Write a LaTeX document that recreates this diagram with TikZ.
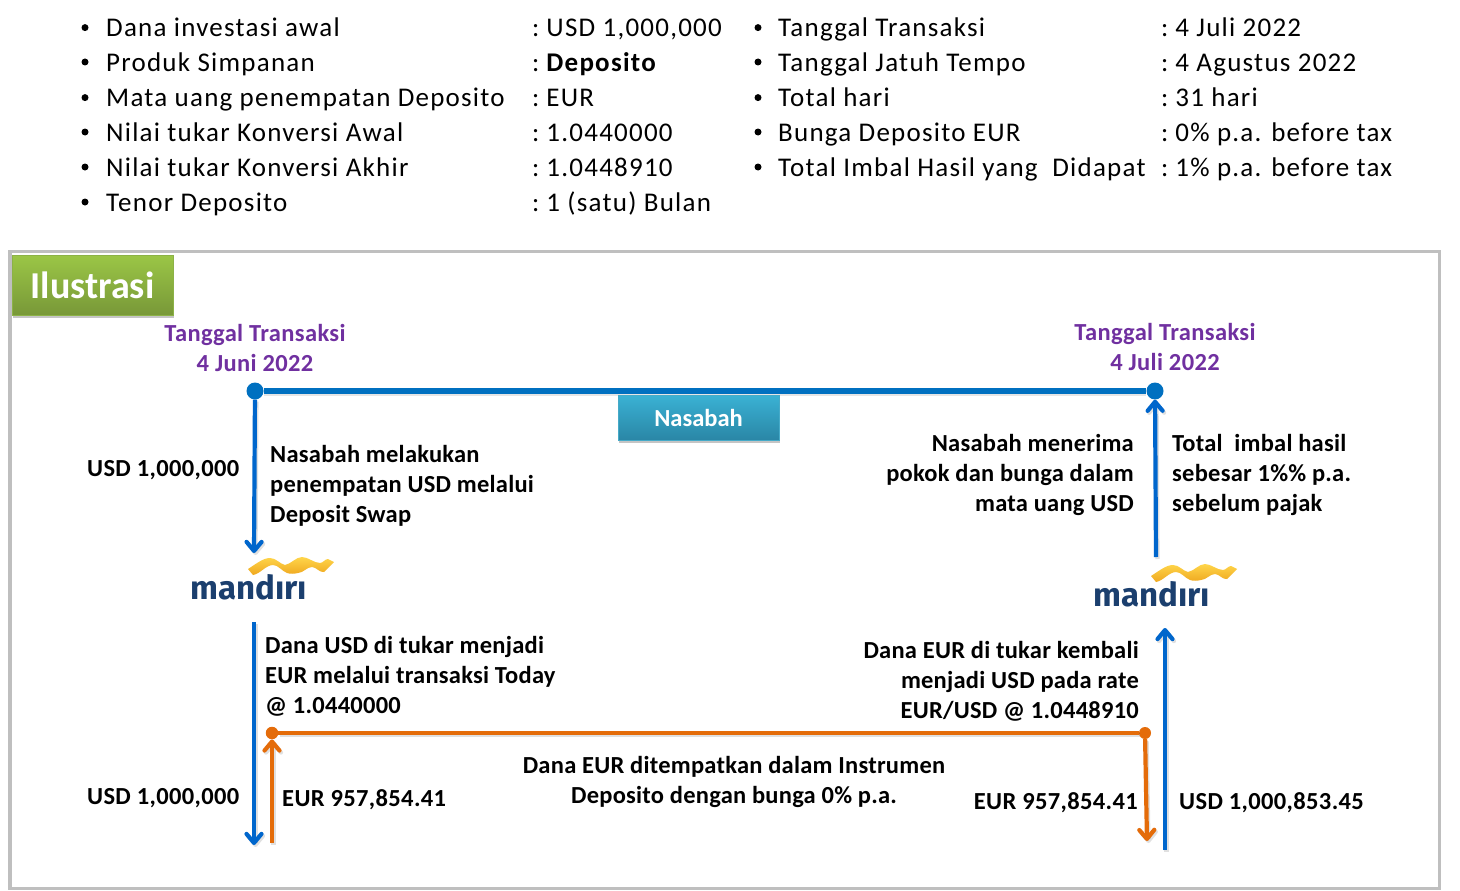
\documentclass[tikz,border=0pt]{standalone}
\usepackage{fontspec}
\setmainfont{Carlito}
\newfontfamily\listfont[LetterSpace=4.6]{Carlito}
\newfontfamily\boldfont[LetterSpace=1.5]{Carlito}
\newfontfamily\parafont[LetterSpace=1.0]{Carlito}
\newfontfamily\logofont{Fira Sans}
\usetikzlibrary{arrows.meta,shadows}
\definecolor{bluel}{HTML}{0070C0}
\definecolor{blueb}{HTML}{0066CC}
\definecolor{orangel}{HTML}{E46C0A}
\definecolor{purp}{HTML}{7030A0}
\definecolor{logoblue}{HTML}{1B3F6E}
\definecolor{greent}{RGB}{155,198,70}
\definecolor{greenb}{RGB}{120,152,56}
\definecolor{greend}{RGB}{140,178,70}
\definecolor{cyant}{RGB}{58,178,212}
\definecolor{cyanb}{RGB}{42,134,166}
\definecolor{cyand}{RGB}{70,170,200}
\definecolor{goldt}{HTML}{FFD54A}
\definecolor{goldb}{HTML}{EFA820}
\newcommand{\cc}{:\hskip 7pt}
\tikzset{
  x=1pt,y=-1pt,
  li/.style={anchor=base west,inner sep=0pt,font=\fontsize{27}{30}\selectfont\listfont,text=black},
  bul/.style={circle,fill=black,inner sep=0pt,minimum size=7pt},
  lab/.style={inner sep=0pt,font=\fontsize{24.5}{30}\selectfont\bfseries\boldfont,text=black},
  para/.style={inner sep=0pt,font=\fontsize{24.5}{30}\selectfont\bfseries\parafont,text=black},
  dateh/.style={inner sep=0pt,align=center,font=\fontsize{24.5}{30}\selectfont\bfseries\boldfont,text=purp},
  bar/.style={draw=#1,fill=none,line width=4.2pt,line cap=butt,
     preaction={draw=black,draw opacity=.12,line width=4.2pt,transform canvas={shift={(1.5pt,-2pt)}}}},
  barh/.style={draw=#1,fill=none,line width=5.5pt,line cap=butt,
     preaction={draw=black,draw opacity=.10,line width=5.5pt,transform canvas={shift={(0pt,-2pt)}}}},
  tip/.style={-{Straight Barb[length=9pt,width=15pt,line width=4.2pt,round]}},
  boxb/.style={inner sep=0pt,anchor=north west,line width=1pt,text=white,drop shadow={shadow xshift=1pt,shadow yshift=-3pt,opacity=.45}},
}
\newcommand{\logoat}[3]{%
  \node[inner sep=0pt,anchor=base west,text=logoblue,font=\fontsize{33}{33}\selectfont\logofont\bfseries] (#3) at (#1,#2) {mandırı};
  \shade[top color=goldt,bottom color=goldb,shift={(#1,#2)}]
    (58,-30) .. controls (66,-35) and (73,-41) .. (80,-41) .. controls (86,-41) and (90,-35) .. (95,-34)
    .. controls (101,-35) and (106,-42) .. (112,-42) .. controls (118,-42) and (124,-36) .. (130,-36)
    .. controls (133,-36) and (135,-40) .. (138,-40) -- (144,-37) -- (134,-27)
    .. controls (130,-26) and (126,-32) .. (122,-32) .. controls (117,-32) and (113,-26) .. (108,-26)
    .. controls (104,-25) and (100,-25) .. (97,-26) .. controls (92,-28) and (88,-34) .. (83,-34)
    .. controls (76,-34) and (70,-25) .. (63,-24) -- cycle;
}
\begin{document}
\begin{tikzpicture}
\useasboundingbox (0,0) rectangle (1460,891);
\fill[white] (0,0) rectangle (1460,891);
% list, left column
\foreach \n/\y/\a/\b in {a/36.6/Dana investasi awal/{\cc USD 1,000,000},b/71/Produk Simpanan/{\cc{\bfseries Deposito}},c/106.6/Mata uang penempatan Deposito/{\cc EUR},d/141/Nilai tukar Konversi Awal/{\cc 1.0440000},e/176/Nilai tukar Konversi Akhir/{\cc 1.0448910},f/211/Tenor Deposito/{\cc 1 (satu) Bulan}}{
  \node[bul] (bl\n) at (85,\y-9) {};
  \node[li] (tl\n) at (106,\y) {\a};
  \node[li] (vl\n) at (532,\y) {\b};
}
% list, right column
\foreach \n/\y/\a/\b in {a/36.6/Tanggal Transaksi/{\cc 4 Juli 2022},b/71/Tanggal Jatuh Tempo/{\cc 4 Agustus 2022},c/106.6/Total hari/{\cc 31 hari},d/141/Bunga Deposito EUR/{\cc 0\% p.a. before tax},e/176/Total Imbal Hasil yang\ \ Didapat/{\cc 1\% p.a. before tax}}{
  \node[bul] (br\n) at (758,\y-9) {};
  \node[li] (tr\n) at (778,\y) {\a};
  \node[li] (vr\n) at (1161,\y) {\b};
}
% frame
\draw[draw=black!25,line width=3.5pt] (10,251.5) rectangle (1439.5,888.5);
% title box
\node[boxb,minimum width=161pt,minimum height=60pt,top color=greent,bottom color=greenb,
      draw=greend,font=\fontsize{38}{38}\selectfont\bfseries] (ilu) at (11.5,254.5) {Ilustrasi};
% dates
\node[dateh] (d1) at (255,348) {Tanggal Transaksi\\4 Juni 2022};
\node[dateh] (d2) at (1165,347) {Tanggal Transaksi\\4 Juli 2022};
% anchor points
\node[circle,fill=bluel,minimum size=17pt,inner sep=0pt] (p1) at (255,391) {};
\node[circle,fill=bluel,minimum size=17pt,inner sep=0pt] (p2) at (1155,391) {};
\node[circle,fill=orangel,minimum size=12.5pt,inner sep=0pt] (o1) at (272,733) {};
\node[circle,fill=orangel,minimum size=12pt,inner sep=0pt] (o2) at (1145,733) {};
\coordinate (a1e) at (254,553);
\coordinate (a2s) at (254,622);
\coordinate (a2e) at (254,845);
\coordinate (o1s) at (272,843);
\coordinate (o2e) at (1147,841);
\coordinate (b2s) at (1165,850);
\coordinate (b2e) at (1165,628);
\coordinate (b3s) at (1156,557);
% connectors
\draw[barh=bluel] (p1) -- (p2);
\draw[bar=blueb,tip] (p1) -- (a1e);
\draw[bar=blueb,tip] (a2s) -- (a2e);
\draw[bar=orangel,tip] (o1s) -- (o1);
\draw[bar=orangel] (o1) -- (o2);
\draw[bar=orangel,tip] (o2) -- (o2e);
\draw[bar=blueb,tip] (b2s) -- (b2e);
\draw[bar=blueb,tip] (b3s) -- (p2);
% Nasabah box
\node[boxb,minimum width=161pt,minimum height=45pt,top color=cyant,bottom color=cyanb,
      draw=cyand,font=\fontsize{24.5}{28}\selectfont\bfseries] (nas) at (617.5,394.5) {Nasabah};
% logos
\logoat{190}{599}{m1}
\logoat{1093}{606}{m2}
% labels
\node[lab,anchor=base west] (u1) at (87,476) {USD 1,000,000};
\node[para,anchor=west,align=left] (t1) at (270,486) {Nasabah melakukan\\penempatan USD melalui\\Deposit Swap};
\node[para,anchor=east,align=right] (t2) at (1134,475) {Nasabah menerima\\pokok dan bunga dalam\\mata uang USD};
\node[para,anchor=west,align=left] (t3) at (1172,475) {Total\ \ imbal hasil\\sebesar 1\%\% p.a.\\sebelum pajak};
\node[para,anchor=west,align=left] (t4) at (265,676) {Dana USD di tukar menjadi\\EUR melalui transaksi Today\\@ 1.0440000};
\node[para,anchor=east,align=right] (t5) at (1139,681.5) {Dana EUR di tukar kembali\\menjadi USD pada rate\\EUR/USD @ 1.0448910};
\node[para,align=center] (t6) at (734,782) {Dana EUR ditempatkan dalam Instrumen\\Deposito dengan bunga 0\% p.a.};
\node[lab,anchor=base west] (u2) at (87,804) {USD 1,000,000};
\node[lab,anchor=base west] (e1) at (282,806) {EUR 957,854.41};
\node[lab,anchor=base east] (e2) at (1138,809) {EUR 957,854.41};
\node[lab,anchor=base west] (u3) at (1179,809) {USD 1,000,853.45};
\end{tikzpicture}
\end{document}
